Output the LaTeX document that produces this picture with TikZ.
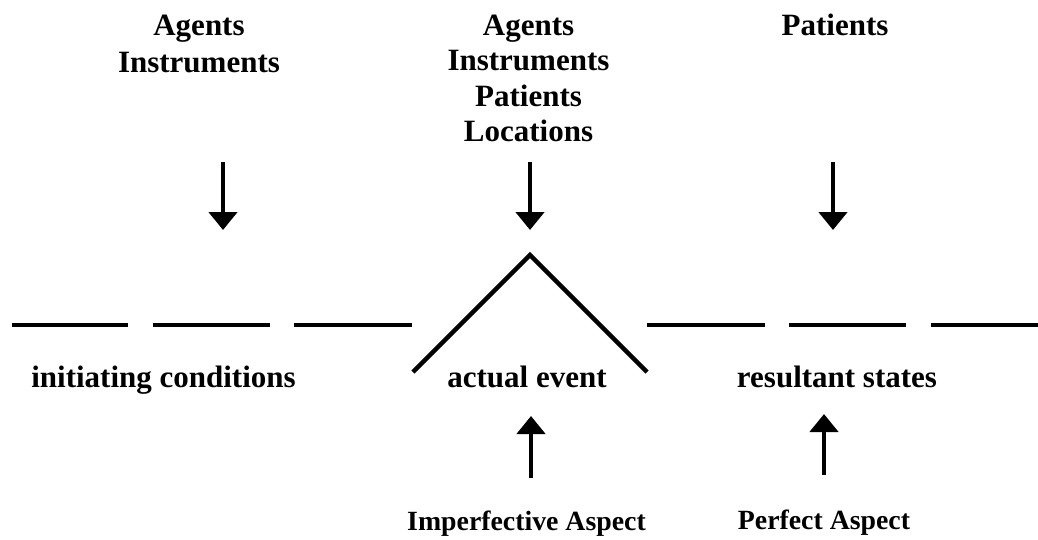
\documentclass[tikz,border=0pt]{standalone}
\usepackage{fontspec}
\setmainfont{Liberation Serif}
\usetikzlibrary{arrows.meta}
\begin{document}
\begin{tikzpicture}[x=1pt,y=-1pt,
  lbl/.style={font=\fontsize{31}{36}\selectfont\bfseries, anchor=base, inner sep=0pt},
  slbl/.style={font=\fontsize{27.8}{32}\selectfont\bfseries, anchor=base, inner sep=0pt},
  seg/.style={line width=4.5pt},
  arr/.style={line width=4.5pt,-{Triangle[width=28pt,length=18pt]}}]
\useasboundingbox (0,0) rectangle (1038,539);
% top labels
\node[lbl] (l1) at (199,35) {Agents};
\node[lbl] (l2) at (199,72) {Instruments};
\node[lbl] (m1) at (528.5,35) {Agents};
\node[lbl] (m2) at (528.5,70.5) {Instruments};
\node[lbl] (m3) at (528.5,106) {Patients};
\node[lbl] (m4) at (528.5,141.5) {Locations};
\node[lbl] (r1) at (835,35) {Patients};
% bottom labels
\node[lbl] (ic) at (163.5,387) {initiating conditions};
\node[lbl] (ae) at (527,387) {actual event};
\node[lbl] (rs) at (837,387) {resultant states};
\node[slbl] (ia) at (526.5,530) {Imperfective Aspect};
\node[slbl] (pa) at (824,529) {Perfect Aspect};
% arrow ends
\coordinate (a1s) at (223,162);
\coordinate (a1e) at (223,230);
\coordinate (a2s) at (530,162);
\coordinate (a2e) at (530,230);
\coordinate (a3s) at (833,162);
\coordinate (a3e) at (833,230);
\coordinate (u1s) at (531,478);
\coordinate (u1e) at (531,416);
\coordinate (u2s) at (824,475);
\coordinate (u2e) at (824,414);
\draw[arr] (a1s) -- (a1e);
\draw[arr] (a2s) -- (a2e);
\draw[arr] (a3s) -- (a3e);
\draw[arr] (u1s) -- (u1e);
\draw[arr] (u2s) -- (u2e);
% time line
\coordinate (d1a) at (12,325);  \coordinate (d1b) at (128,325);
\coordinate (d2a) at (153,325); \coordinate (d2b) at (270,325);
\coordinate (d3a) at (294,325); \coordinate (d3b) at (412,325);
\coordinate (d4a) at (647,325); \coordinate (d4b) at (765,325);
\coordinate (d5a) at (789,325); \coordinate (d5b) at (906,325);
\coordinate (d6a) at (931,325); \coordinate (d6b) at (1038,325);
\draw[seg] (d1a) -- (d1b);
\draw[seg] (d2a) -- (d2b);
\draw[seg] (d3a) -- (d3b);
\draw[seg] (d4a) -- (d4b);
\draw[seg] (d5a) -- (d5b);
\draw[seg] (d6a) -- (d6b);
% peak
\coordinate (pl) at (413,372);
\coordinate (pt) at (530,255);
\coordinate (pr) at (647,372);
\draw[seg, line join=miter] (pl) -- (pt) -- (pr);
\end{tikzpicture}
\end{document}
